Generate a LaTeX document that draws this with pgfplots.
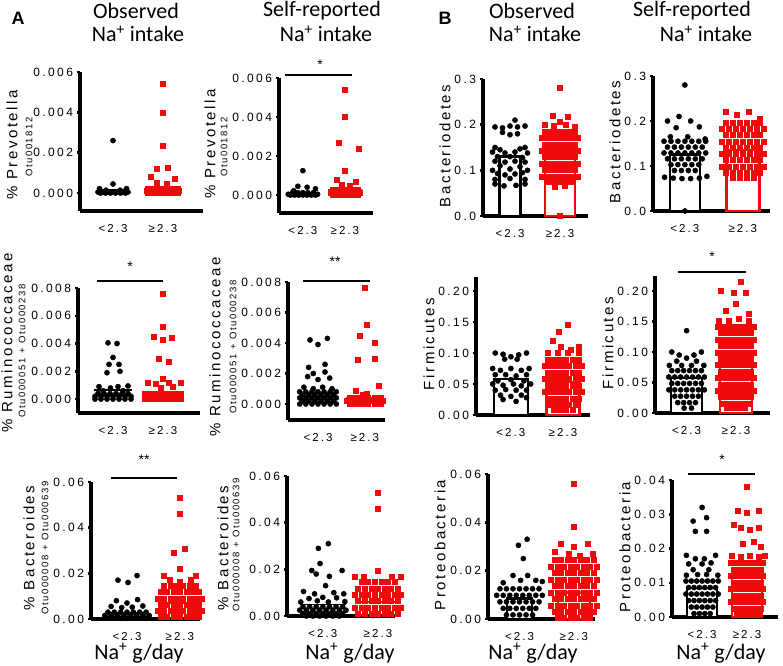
\documentclass[border=0pt]{standalone}
\usepackage{pgfplots}
\pgfplotsset{compat=1.18}
\usepackage{fontspec}
\setmainfont{Liberation Sans}
\newfontfamily\tickfont[LetterSpace=20]{Liberation Sans}
\newfontfamily\xtickfont[LetterSpace=18]{Liberation Sans}
\newfontfamily\labfont[LetterSpace=17]{Liberation Sans}
\newfontfamily\titfont{Carlito}
\definecolor{myred}{RGB}{240,10,10}
\pgfplotsset{
 dot/.style={scale only axis, clip=false, axis x line=bottom, axis y line=left,
   axis line style={line width=3.5pt,-}, xtick={0,1}, xticklabels={{<2.3},{≥2.3}},
   x tick style={draw=none}, y tick style={line width=2.5pt,black}, major tick length=3.5pt,
   tick align=outside, scaled y ticks=false,
   yticklabel style={font=\tickfont\fontsize{12}{13}\selectfont},
   xticklabel style={font=\xtickfont\fontsize{11.5}{12}\selectfont, yshift=-6pt}, anchor=south west},
 blk/.style={only marks, mark=*, mark size=2.6pt, black},
 rd/.style={only marks, mark=square*, mark size=2.5pt, color=myred, mark options={draw=myred, fill=myred}},
 mblk/.style={black, line width=1.2pt},
 mrd/.style={myred, line width=1.2pt},
 bbar/.style={ybar, bar shift=0pt, fill=white, line width=2.5pt, draw=black},
 rbar/.style={ybar, bar shift=0pt, fill=white, line width=2.5pt, draw=myred},
}
\newcommand{\mainlab}{\labfont\fontsize{15}{17}\selectfont}
\newcommand{\sublab}{\labfont\fontsize{9.5}{11}\selectfont}
\newcommand{\tit}{\titfont\fontsize{22}{24}\selectfont}
\begin{document}
\begin{tikzpicture}[x=1pt,y=1pt]
\useasboundingbox (0,0) rectangle (783,665);
% ---------------- A1 ----------------
\begin{axis}[dot, at={(80pt,454pt)}, width=123pt, height=139pt, xmin=-0.66, xmax=1.8, ymin=-0.00089, ymax=0.006,
 ytick={0,0.002,0.004,0.006}, yticklabels={0.000,0.002,0.004,0.006}]
\addplot[blk] coordinates {(0,0.0026)(0,0.00045)(-0.27,0.00022)(0.27,0.00022)(-0.14,0.00014)(0.14,0.00014)
(-0.3,0.00005)(-0.2,0.00005)(-0.1,0.00005)(0,0.00005)(0.1,0.00005)(0.2,0.00005)(0.3,0.00005)
(-0.25,0)(-0.15,0)(-0.05,0)(0.05,0)(0.15,0)(0.25,0)};
\addplot[mblk] coordinates {(-0.32,0.00016)(0.32,0.00016)};
\addplot[rd] coordinates {(1,0.0054)(1,0.0040)(1,0.00235)(0.88,0.00122)(1.1,0.00125)(0.75,0.0008)(1.23,0.00072)(0.88,0.00052)(1.08,0.00045)
(0.7,0.0002)(0.8,0.0002)(0.9,0.0002)(1,0.0002)(1.1,0.0002)(1.2,0.0002)(1.3,0.0002)
(0.68,0.0001)(0.76,0.0001)(0.84,0.0001)(0.92,0.0001)(1,0.0001)(1.08,0.0001)(1.16,0.0001)(1.24,0.0001)(1.32,0.0001)
(0.7,0)(0.8,0)(0.9,0)(1,0)(1.1,0)(1.2,0)(1.3,0)};
\addplot[mrd] coordinates {(0.66,0.00028)(1.34,0.00028)};
\end{axis}
% ---------------- A2 ----------------
\begin{axis}[dot, at={(279pt,452pt)}, width=94pt, height=135pt, xmin=-0.57, xmax=1.67, ymin=-0.00092, ymax=0.006,
 ytick={0,0.002,0.004,0.006}, yticklabels={0.000,0.002,0.004,0.006}]
\addplot[blk] coordinates {(0,0.00125)(-0.12,0.00045)(0.1,0.0004)(0.3,0.00032)(-0.22,0.00022)
(-0.25,0.00012)(-0.12,0.00012)(0,0.00012)(0.12,0.00012)(0.25,0.00012)
(-0.35,0.00004)(-0.25,0.00004)(-0.15,0.00004)(-0.05,0.00004)(0.05,0.00004)(0.15,0.00004)(0.25,0.00004)(0.35,0.00004)
(-0.3,0)(-0.2,0)(-0.1,0)(0,0)(0.1,0)(0.2,0)(0.3,0)};
\addplot[mblk] coordinates {(-0.36,0.0001)(0.36,0.0001)};
\addplot[rd] coordinates {(1,0.0054)(1,0.0040)(0.85,0.0027)(1.33,0.0024)(1,0.00125)(0.8,0.0008)(1.25,0.0007)(0.92,0.00055)(1.12,0.0005)
(0.7,0.00025)(0.8,0.00025)(0.9,0.00025)(1,0.00025)(1.1,0.00025)(1.2,0.00025)(1.3,0.00025)
(0.65,0.00012)(0.75,0.00012)(0.85,0.00012)(0.95,0.00012)(1.05,0.00012)(1.15,0.00012)(1.25,0.00012)(1.35,0.00012)
(0.7,0)(0.8,0)(0.9,0)(1,0)(1.1,0)(1.2,0)(1.3,0)};
\addplot[mrd] coordinates {(0.6,0.00028)(1.4,0.00028)};
\end{axis}
% ---------------- B1 ----------------
\begin{axis}[dot, at={(483pt,449pt)}, width=105pt, height=137pt, xmin=-0.54, xmax=1.56, ymin=0, ymax=0.3,
 ytick={0,0.1,0.2,0.3}, yticklabels={0.0,0.1,0.2,0.3}]
\addplot[bbar, bar width=21pt] coordinates {(0,0.13)};
\addplot[rbar, bar width=30pt] coordinates {(1,0.13)};
\addplot[blk] coordinates {(0.1,0.21)
(-0.3,0.195)(-0.15,0.193)(0,0.197)(0.15,0.195)(0.3,0.197)
(-0.15,0.183)(0.0,0.178)(0.15,0.18)
(-0.3,0.15)(0.3,0.15)(-0.2,0.145)(0.2,0.147)
(-0.35,0.14)(-0.1,0.138)(0.1,0.14)(0.35,0.138)
(-0.25,0.13)(0,0.13)(0.25,0.128)
(-0.3,0.12)(-0.1,0.118)(0.1,0.12)(0.3,0.118)
(-0.2,0.11)(0.2,0.108)(-0.35,0.1)(0.35,0.1)(0,0.103)
(-0.25,0.093)(0.25,0.095)(-0.1,0.09)(0.1,0.092)
(-0.3,0.08)(0.3,0.08)(0,0.082)
(-0.3,0.07)(-0.12,0.066)(0.12,0.067)(0.3,0.07)};
\addplot[rd] coordinates {(1,0.28)(0.85,0.22)(1.15,0.218)(1,0.207)(0.7,0.2)(0.88,0.197)(1.12,0.2)(1.3,0.196)
(0.7,0.185)(0.82,0.185)(0.94,0.185)(1.06,0.185)(1.18,0.185)(1.3,0.185)
(0.64,0.171)(0.76,0.171)(0.88,0.171)(1,0.171)(1.12,0.171)(1.24,0.171)(1.36,0.171)
(0.7,0.157)(0.82,0.157)(0.94,0.157)(1.06,0.157)(1.18,0.157)(1.3,0.157)
(0.64,0.143)(0.76,0.143)(0.88,0.143)(1,0.143)(1.12,0.143)(1.24,0.143)(1.36,0.143)
(0.7,0.129)(0.82,0.129)(0.94,0.129)(1.06,0.129)(1.18,0.129)(1.3,0.129)
(0.64,0.115)(0.76,0.115)(0.88,0.115)(1,0.115)(1.12,0.115)(1.24,0.115)(1.36,0.115)
(0.7,0.101)(0.82,0.101)(0.94,0.101)(1.06,0.101)(1.18,0.101)(1.3,0.101)
(0.64,0.087)(0.76,0.087)(0.88,0.087)(1,0.087)(1.12,0.087)(1.24,0.087)(1.36,0.087)
(0.76,0.075)(0.88,0.075)(1,0.075)(1.12,0.075)(1.24,0.075)
(0.9,0.065)(1.1,0.066)(1,0)};
\end{axis}
% ---------------- B2 ----------------
\begin{axis}[dot, at={(653pt,454pt)}, width=117pt, height=135pt, xmin=-0.55, xmax=1.47, ymin=0, ymax=0.3,
 ytick={0,0.1,0.2,0.3}, yticklabels={0.0,0.1,0.2,0.3}]
\addplot[bbar, bar width=30pt] coordinates {(0,0.125)};
\addplot[rbar, bar width=33pt] coordinates {(1,0.135)};
\addplot[blk] coordinates {(0,0.28)(-0.1,0.21)(0.1,0.2)(-0.3,0.2)(0.25,0.187)(-0.15,0.185)(0.05,0.165)(-0.25,0.165)(0.35,0.16)
(-0.36,0.155)(-0.24,0.155)(-0.12,0.155)(0,0.155)(0.12,0.155)(0.24,0.155)(0.36,0.155)
(-0.3,0.142)(-0.18,0.142)(-0.06,0.142)(0.06,0.142)(0.18,0.142)(0.3,0.142)
(-0.36,0.129)(-0.24,0.129)(-0.12,0.129)(0,0.129)(0.12,0.129)(0.24,0.129)(0.36,0.129)
(-0.3,0.116)(-0.18,0.116)(-0.06,0.116)(0.06,0.116)(0.18,0.116)(0.3,0.116)
(-0.24,0.103)(-0.12,0.103)(0,0.103)(0.12,0.103)(0.24,0.103)
(-0.18,0.09)(-0.06,0.09)(0.06,0.09)(0.18,0.09)
(-0.35,0.075)(-0.2,0.073)(-0.05,0.072)(0.1,0.072)(0.25,0.073)(0.38,0.077)(0,0)};
\addplot[rd] coordinates {(0.7,0.22)(0.9,0.215)(1.1,0.22)(1.3,0.205)
(0.7,0.197)(0.82,0.197)(0.94,0.197)(1.06,0.197)(1.18,0.197)(1.3,0.197)
(0.64,0.183)(0.76,0.183)(0.88,0.183)(1,0.183)(1.12,0.183)(1.24,0.183)(1.36,0.183)
(0.7,0.169)(0.82,0.169)(0.94,0.169)(1.06,0.169)(1.18,0.169)(1.3,0.169)
(0.64,0.155)(0.76,0.155)(0.88,0.155)(1,0.155)(1.12,0.155)(1.24,0.155)(1.36,0.155)
(0.7,0.141)(0.82,0.141)(0.94,0.141)(1.06,0.141)(1.18,0.141)(1.3,0.141)
(0.64,0.127)(0.76,0.127)(0.88,0.127)(1,0.127)(1.12,0.127)(1.24,0.127)(1.36,0.127)
(0.7,0.113)(0.82,0.113)(0.94,0.113)(1.06,0.113)(1.18,0.113)(1.3,0.113)
(0.64,0.099)(0.76,0.099)(0.88,0.099)(1,0.099)(1.12,0.099)(1.24,0.099)(1.36,0.099)
(0.7,0.085)(0.82,0.085)(0.94,0.085)(1.06,0.085)(1.18,0.085)(1.3,0.085)
(0.82,0.074)(0.94,0.074)(1.06,0.074)(1.18,0.074)};
\end{axis}
% ---------------- A3 ----------------
\begin{axis}[dot, at={(78pt,252pt)}, width=122pt, height=125pt, xmin=-0.7, xmax=1.74, ymin=-0.001, ymax=0.008,
 ytick={0,0.002,0.004,0.006,0.008}, yticklabels={0.000,0.002,0.004,0.006,0.008}]
\addplot[blk] coordinates {(-0.1,0.00405)(0.08,0.004)(0,0.003)(-0.08,0.0025)(0.12,0.0025)(-0.12,0.0019)(0.14,0.002)
(-0.28,0.0009)(-0.05,0.0008)(0.1,0.0009)(0.3,0.00095)(-0.2,0.0006)(0.2,0.0006)
(-0.3,0.0004)(-0.18,0.0004)(-0.06,0.0004)(0.06,0.0004)(0.18,0.0004)(0.3,0.0004)
(-0.36,0.0002)(-0.24,0.0002)(-0.12,0.0002)(0,0.0002)(0.12,0.0002)(0.24,0.0002)(0.36,0.0002)
(-0.36,0)(-0.24,0)(-0.12,0)(0,0)(0.12,0)(0.24,0)(0.36,0)};
\addplot[mblk] coordinates {(-0.38,0.00065)(0.38,0.00065)};
\addplot[rd] coordinates {(1,0.0076)(1,0.0052)(0.82,0.0045)(1,0.0043)(1.18,0.0044)(0.92,0.0029)(1.12,0.0027)(1,0.0015)
(0.7,0.0012)(0.85,0.0011)(1.12,0.0012)(1.35,0.0012)(0.95,0.0008)(1.2,0.0009)
(0.64,0.0004)(0.76,0.0004)(0.88,0.0004)(1,0.0004)(1.12,0.0004)(1.24,0.0004)(1.36,0.0004)
(0.7,0.0002)(0.82,0.0002)(0.94,0.0002)(1.06,0.0002)(1.18,0.0002)(1.3,0.0002)
(0.64,0)(0.76,0)(0.88,0)(1,0)(1.12,0)(1.24,0)(1.36,0)};
\addplot[mrd] coordinates {(0.62,0.0005)(1.38,0.0005)};
\end{axis}
% ---------------- A4 ----------------
\begin{axis}[dot, at={(288pt,245pt)}, width=97pt, height=138pt, xmin=-0.64, xmax=1.43, ymin=-0.00105, ymax=0.008,
 ytick={0,0.002,0.004,0.006,0.008}, yticklabels={0.000,0.002,0.004,0.006,0.008}]
\addplot[blk] coordinates {(-0.17,0.0042)(0,0.0039)(0.2,0.0043)(0.15,0.0026)(-0.2,0.0024)(-0.1,0.002)(0.15,0.0021)(-0.22,0.0018)(0.25,0.0017)(0,0.0016)
(-0.3,0.0011)(-0.1,0.001)(0.1,0.0011)(0.3,0.001)
(-0.39,0.0008)(-0.26,0.0008)(-0.13,0.0008)(0,0.0008)(0.13,0.0008)(0.26,0.0008)(0.39,0.0008)
(-0.33,0.0006)(-0.2,0.0006)(-0.07,0.0006)(0.07,0.0006)(0.2,0.0006)(0.33,0.0006)
(-0.39,0.0004)(-0.26,0.0004)(-0.13,0.0004)(0,0.0004)(0.13,0.0004)(0.26,0.0004)(0.39,0.0004)
(-0.33,0.0002)(-0.2,0.0002)(-0.07,0.0002)(0.07,0.0002)(0.2,0.0002)(0.33,0.0002)
(-0.39,0)(-0.26,0)(-0.13,0)(0,0)(0.13,0)(0.26,0)(0.39,0)};
\addplot[mblk] coordinates {(-0.42,0.0005)(0.42,0.0005)};
\addplot[rd] coordinates {(1,0.0076)(1.05,0.0052)(0.9,0.0045)(1.22,0.004)(0.85,0.0029)(1.22,0.003)(1.3,0.0012)(0.8,0.0009)(1.05,0.0007)(0.95,0.0006)
(0.67,0.0004)(0.8,0.0004)(0.93,0.0004)(1.07,0.0004)(1.2,0.0004)(1.33,0.0004)
(0.61,0.0002)(0.74,0.0002)(0.87,0.0002)(1,0.0002)(1.13,0.0002)(1.26,0.0002)(1.39,0.0002)
(0.67,0)(0.8,0)(0.93,0)(1.07,0)(1.2,0)(1.33,0)};
\addplot[mrd] coordinates {(0.6,0.0004)(1.4,0.0004)};
\end{axis}
% ---------------- B3 ----------------
\begin{axis}[dot, at={(476pt,250pt)}, width=114pt, height=138pt, xmin=-0.67, xmax=1.52, ymin=0, ymax=0.2226,
 ytick={0,0.05,0.1,0.15,0.2}, yticklabels={0.00,0.05,0.10,0.15,0.20}]
\addplot[bbar, bar width=34pt] coordinates {(0,0.058)};
\addplot[rbar, bar width=33pt] coordinates {(1,0.053)};
\addplot[blk] coordinates {(-0.3,0.1)(-0.15,0.098)(0,0.094)(0.15,0.097)(0.3,0.1)(-0.12,0.09)(0.12,0.09)
(-0.35,0.075)(-0.2,0.072)(0,0.075)(0.2,0.072)(0.35,0.075)
(-0.3,0.065)(-0.1,0.065)(0.1,0.063)(0.3,0.065)
(-0.25,0.055)(0,0.057)(0.25,0.055)
(-0.35,0.05)(-0.15,0.048)(0.05,0.05)(0.2,0.047)(0.38,0.05)
(-0.3,0.04)(-0.1,0.041)(0.1,0.04)(0.3,0.04)
(-0.2,0.032)(0,0.03)(0.2,0.032)
(-0.15,0.025)(0.1,0.022)(0.3,0.028)};
\addplot[rd] coordinates {(1.1,0.146)(0.92,0.135)(0.8,0.12)(0.95,0.11)(1.3,0.11)(1.15,0.105)(0.7,0.1)(0.9,0.1)(1.1,0.1)(1.3,0.1)
(0.7,0.0895)(0.82,0.0895)(0.94,0.0895)(1.06,0.0895)(1.18,0.0895)(1.3,0.0895)
(0.64,0.079)(0.76,0.079)(0.88,0.079)(1,0.079)(1.12,0.079)(1.24,0.079)(1.36,0.079)
(0.7,0.0685)(0.82,0.0685)(0.94,0.0685)(1.06,0.0685)(1.18,0.0685)(1.3,0.0685)
(0.64,0.058)(0.76,0.058)(0.88,0.058)(1,0.058)(1.12,0.058)(1.24,0.058)(1.36,0.058)
(0.7,0.0475)(0.82,0.0475)(0.94,0.0475)(1.06,0.0475)(1.18,0.0475)(1.3,0.0475)
(0.64,0.037)(0.76,0.037)(0.88,0.037)(1,0.037)(1.12,0.037)(1.24,0.037)(1.36,0.037)
(0.7,0.0265)(0.82,0.0265)(0.94,0.0265)(1.06,0.0265)(1.18,0.0265)(1.3,0.0265)
(0.76,0.016)(0.88,0.016)(1,0.016)(1.12,0.016)(1.24,0.016)
(0.82,0.008)(0.94,0.008)(1.06,0.008)(1.18,0.008)};
\end{axis}
% ---------------- B4 ----------------
\begin{axis}[dot, at={(655pt,252pt)}, width=115pt, height=137pt, xmin=-0.64, xmax=1.69, ymin=0, ymax=0.2246,
 ytick={0,0.05,0.1,0.15,0.2}, yticklabels={0.00,0.05,0.10,0.15,0.20}]
\addplot[bbar, bar width=31pt] coordinates {(0,0.057)};
\addplot[rbar, bar width=32pt] coordinates {(1,0.08)};
\addplot[blk] coordinates {(0,0.135)
(-0.3,0.1)(-0.15,0.095)(0,0.09)(0.15,0.095)(0.3,0.1)(-0.2,0.085)(0.2,0.085)
(-0.35,0.078)(-0.1,0.078)(0.1,0.078)(0.35,0.078)
(-0.3,0.0695)(-0.18,0.0695)(-0.06,0.0695)(0.06,0.0695)(0.18,0.0695)(0.3,0.0695)
(-0.36,0.059)(-0.24,0.059)(-0.12,0.059)(0,0.059)(0.12,0.059)(0.24,0.059)(0.36,0.059)
(-0.3,0.0485)(-0.18,0.0485)(-0.06,0.0485)(0.06,0.0485)(0.18,0.0485)(0.3,0.0485)
(-0.36,0.038)(-0.24,0.038)(-0.12,0.038)(0,0.038)(0.12,0.038)(0.24,0.038)(0.36,0.038)
(-0.24,0.0275)(-0.12,0.0275)(0,0.0275)(0.12,0.0275)(0.24,0.0275)
(-0.18,0.017)(-0.06,0.017)(0.06,0.017)(0.18,0.017)
(-0.05,0.008)(0.1,0.008)};
\addplot[rd] coordinates {(1.1,0.215)(0.7,0.2)(0.95,0.197)(1.2,0.198)(1,0.18)(0.8,0.168)(1.25,0.163)
(0.65,0.152)(0.85,0.152)(1.05,0.154)(1.25,0.152)
(0.64,0.1415)(0.76,0.1415)(0.88,0.1415)(1,0.1415)(1.12,0.1415)(1.24,0.1415)(1.36,0.1415)
(0.7,0.131)(0.82,0.131)(0.94,0.131)(1.06,0.131)(1.18,0.131)(1.3,0.131)
(0.64,0.1205)(0.76,0.1205)(0.88,0.1205)(1,0.1205)(1.12,0.1205)(1.24,0.1205)(1.36,0.1205)
(0.7,0.11)(0.82,0.11)(0.94,0.11)(1.06,0.11)(1.18,0.11)(1.3,0.11)
(0.64,0.0995)(0.76,0.0995)(0.88,0.0995)(1,0.0995)(1.12,0.0995)(1.24,0.0995)(1.36,0.0995)
(0.7,0.089)(0.82,0.089)(0.94,0.089)(1.06,0.089)(1.18,0.089)(1.3,0.089)
(0.64,0.0785)(0.76,0.0785)(0.88,0.0785)(1,0.0785)(1.12,0.0785)(1.24,0.0785)(1.36,0.0785)
(0.7,0.068)(0.82,0.068)(0.94,0.068)(1.06,0.068)(1.18,0.068)(1.3,0.068)
(0.64,0.0575)(0.76,0.0575)(0.88,0.0575)(1,0.0575)(1.12,0.0575)(1.24,0.0575)(1.36,0.0575)
(0.7,0.047)(0.82,0.047)(0.94,0.047)(1.06,0.047)(1.18,0.047)(1.3,0.047)
(0.64,0.0365)(0.76,0.0365)(0.88,0.0365)(1,0.0365)(1.12,0.0365)(1.24,0.0365)(1.36,0.0365)
(0.7,0.026)(0.82,0.026)(0.94,0.026)(1.06,0.026)(1.18,0.026)(1.3,0.026)
(0.76,0.016)(0.88,0.016)(1,0.016)(1.12,0.016)(1.24,0.016)
(0.82,0.008)(0.94,0.008)(1.06,0.008)(1.18,0.008)};
\end{axis}
% ---------------- A5 ----------------
\begin{axis}[dot, at={(91pt,46pt)}, width=109pt, height=137pt, xmin=-0.68, xmax=1.38, ymin=0, ymax=0.06,
 ytick={0,0.02,0.04,0.06}, yticklabels={0.00,0.02,0.04,0.06}]
\addplot[blk] coordinates {(-0.17,0.017)(0.02,0.016)(0.19,0.019)
(-0.2,0.008)(0.2,0.0085)(0,0.007)(-0.3,0.0055)(0.3,0.0057)(-0.1,0.005)(0.1,0.0052)
(-0.36,0.003)(-0.24,0.003)(-0.12,0.003)(0,0.003)(0.12,0.003)(0.24,0.003)(0.36,0.003)
(-0.42,0.0015)(-0.3,0.0015)(-0.18,0.0015)(-0.06,0.0015)(0.06,0.0015)(0.18,0.0015)(0.3,0.0015)(0.42,0.0015)
(-0.36,0.0003)(-0.24,0.0003)(-0.12,0.0003)(0,0.0003)(0.12,0.0003)(0.24,0.0003)(0.36,0.0003)};
\addplot[mblk] coordinates {(-0.42,0.003)(0.42,0.003)};
\addplot[rd] coordinates {(1,0.053)(1,0.046)(1.1,0.031)(0.88,0.029)(1,0.022)
(0.7,0.019)(1.3,0.019)(0.8,0.017)(1,0.0165)(1.2,0.017)
(0.7,0.0145)(0.82,0.0145)(0.94,0.0145)(1.06,0.0145)(1.18,0.0145)(1.3,0.0145)
(0.64,0.0118)(0.76,0.0118)(0.88,0.0118)(1,0.0118)(1.12,0.0118)(1.24,0.0118)(1.36,0.0118)
(0.58,0.0091)(0.7,0.0091)(0.82,0.0091)(0.94,0.0091)(1.06,0.0091)(1.18,0.0091)(1.3,0.0091)(1.42,0.0091)
(0.64,0.0064)(0.76,0.0064)(0.88,0.0064)(1,0.0064)(1.12,0.0064)(1.24,0.0064)(1.36,0.0064)
(0.58,0.0037)(0.7,0.0037)(0.82,0.0037)(0.94,0.0037)(1.06,0.0037)(1.18,0.0037)(1.3,0.0037)(1.42,0.0037)
(0.64,0.001)(0.76,0.001)(0.88,0.001)(1,0.001)(1.12,0.001)(1.24,0.001)(1.36,0.001)};
\addplot[mrd] coordinates {(0.6,0.007)(1.4,0.007)};
\end{axis}
% ---------------- A6 ----------------
\begin{axis}[dot, at={(287pt,49pt)}, width=108pt, height=140pt, xmin=-0.65, xmax=1.31, ymin=0, ymax=0.06,
 ytick={0,0.02,0.04,0.06}, yticklabels={0.00,0.02,0.04,0.06}]
\addplot[blk] coordinates {(0.1,0.031)(-0.08,0.029)(-0.05,0.0225)(-0.2,0.0195)(0.35,0.0195)(-0.12,0.018)(0.12,0.017)(0.05,0.013)
(-0.35,0.0105)(-0.15,0.0095)(0.2,0.01)(0.38,0.0095)
(-0.25,0.0075)(0,0.008)(0.25,0.0078)(-0.4,0.006)(0.4,0.0062)(-0.1,0.0065)(0.1,0.006)
(-0.36,0.004)(-0.24,0.004)(-0.12,0.004)(0,0.004)(0.12,0.004)(0.24,0.004)(0.36,0.004)
(-0.42,0.0025)(-0.3,0.0025)(-0.18,0.0025)(-0.06,0.0025)(0.06,0.0025)(0.18,0.0025)(0.3,0.0025)(0.42,0.0025)
(-0.36,0.001)(-0.24,0.001)(-0.12,0.001)(0,0.001)(0.12,0.001)(0.24,0.001)(0.36,0.001)
(-0.3,0)(-0.18,0)(-0.06,0)(0.06,0)(0.18,0)(0.3,0)};
\addplot[mblk] coordinates {(-0.42,0.0048)(0.42,0.0048)};
\addplot[rd] coordinates {(1,0.053)(1,0.046)(1,0.0195)
(0.58,0.017)(0.75,0.017)(1.25,0.017)(1.42,0.017)
(0.7,0.0145)(0.82,0.0145)(0.94,0.0145)(1.06,0.0145)(1.18,0.0145)(1.3,0.0145)
(0.64,0.0118)(0.76,0.0118)(0.88,0.0118)(1,0.0118)(1.12,0.0118)(1.24,0.0118)(1.36,0.0118)
(0.58,0.0091)(0.7,0.0091)(0.82,0.0091)(0.94,0.0091)(1.06,0.0091)(1.18,0.0091)(1.3,0.0091)(1.42,0.0091)
(0.64,0.0064)(0.76,0.0064)(0.88,0.0064)(1,0.0064)(1.12,0.0064)(1.24,0.0064)(1.36,0.0064)
(0.58,0.0037)(0.7,0.0037)(0.82,0.0037)(0.94,0.0037)(1.06,0.0037)(1.18,0.0037)(1.3,0.0037)(1.42,0.0037)
(0.64,0.001)(0.76,0.001)(0.88,0.001)(1,0.001)(1.12,0.001)(1.24,0.001)(1.36,0.001)};
\addplot[mrd] coordinates {(0.6,0.006)(1.4,0.006)};
\end{axis}
% ---------------- B5 ----------------
\begin{axis}[dot, at={(488pt,46pt)}, width=107pt, height=145pt, xmin=-0.58, xmax=1.39, ymin=0, ymax=0.06,
 ytick={0,0.02,0.04,0.06}, yticklabels={0.00,0.02,0.04,0.06}]
\addplot[bbar, bar width=25pt] coordinates {(0,0.0085)};
\addplot[rbar, bar width=32pt] coordinates {(1,0.011)};
\addplot[blk] coordinates {(0.14,0.033)(-0.02,0.0305)(0.07,0.025)(-0.12,0.018)(0.15,0.018)
(-0.3,0.015)(0.02,0.016)(0.3,0.016)(0.42,0.0155)
(-0.36,0.0125)(-0.24,0.0125)(-0.12,0.0125)(0,0.0125)(0.12,0.0125)(0.24,0.0125)(0.36,0.0125)
(-0.42,0.0098)(-0.3,0.0098)(-0.18,0.0098)(-0.06,0.0098)(0.06,0.0098)(0.18,0.0098)(0.3,0.0098)(0.42,0.0098)
(-0.36,0.0071)(-0.24,0.0071)(-0.12,0.0071)(0,0.0071)(0.12,0.0071)(0.24,0.0071)(0.36,0.0071)
(-0.3,0.0044)(-0.18,0.0044)(-0.06,0.0044)(0.06,0.0044)(0.18,0.0044)(0.3,0.0044)
(-0.24,0.0017)(-0.12,0.0017)(0,0.0017)(0.12,0.0017)(0.24,0.0017)};
\addplot[rd] coordinates {(1,0.056)(1,0.038)(0.75,0.031)(1,0.03)(1.25,0.031)(0.65,0.028)(0.9,0.027)(1.1,0.026)(1.35,0.027)
(0.64,0.0245)(0.76,0.0245)(0.88,0.0245)(1,0.0245)(1.12,0.0245)(1.24,0.0245)(1.36,0.0245)
(0.58,0.0218)(0.7,0.0218)(0.82,0.0218)(0.94,0.0218)(1.06,0.0218)(1.18,0.0218)(1.3,0.0218)(1.42,0.0218)
(0.64,0.0191)(0.76,0.0191)(0.88,0.0191)(1,0.0191)(1.12,0.0191)(1.24,0.0191)(1.36,0.0191)
(0.58,0.0164)(0.7,0.0164)(0.82,0.0164)(0.94,0.0164)(1.06,0.0164)(1.18,0.0164)(1.3,0.0164)(1.42,0.0164)
(0.64,0.0137)(0.76,0.0137)(0.88,0.0137)(1,0.0137)(1.12,0.0137)(1.24,0.0137)(1.36,0.0137)
(0.58,0.011)(0.7,0.011)(0.82,0.011)(0.94,0.011)(1.06,0.011)(1.18,0.011)(1.3,0.011)(1.42,0.011)
(0.64,0.0083)(0.76,0.0083)(0.88,0.0083)(1,0.0083)(1.12,0.0083)(1.24,0.0083)(1.36,0.0083)
(0.58,0.0056)(0.7,0.0056)(0.82,0.0056)(0.94,0.0056)(1.06,0.0056)(1.18,0.0056)(1.3,0.0056)(1.42,0.0056)
(0.64,0.0029)(0.76,0.0029)(0.88,0.0029)(1,0.0029)(1.12,0.0029)(1.24,0.0029)(1.36,0.0029)
(0.7,0.0004)(0.82,0.0004)(0.94,0.0004)(1.06,0.0004)(1.18,0.0004)(1.3,0.0004)};
\end{axis}
% ---------------- B6 ----------------
\begin{axis}[dot, at={(672pt,48pt)}, width=106pt, height=137pt, xmin=-0.67, xmax=1.69, ymin=0, ymax=0.04,
 ytick={0,0.01,0.02,0.03,0.04}, yticklabels={0.00,0.01,0.02,0.03,0.04}]
\addplot[bbar, bar width=30pt] coordinates {(0,0.0085)};
\addplot[rbar, bar width=30pt] coordinates {(1,0.0115)};
\addplot[blk] coordinates {(0,0.032)(-0.2,0.028)(0.1,0.029)(-0.15,0.025)(0.1,0.025)
(-0.35,0.018)(-0.15,0.017)(0.05,0.017)(0.3,0.018)(-0.3,0.0155)(0,0.0155)(0.2,0.0158)
(-0.2,0.0138)(0.15,0.0138)(-0.35,0.0122)(-0.1,0.0124)(0.1,0.0124)(0.35,0.0122)
(-0.36,0.0105)(-0.24,0.0105)(-0.12,0.0105)(0,0.0105)(0.12,0.0105)(0.24,0.0105)(0.36,0.0105)
(-0.3,0.0086)(-0.18,0.0086)(-0.06,0.0086)(0.06,0.0086)(0.18,0.0086)(0.3,0.0086)
(-0.36,0.0067)(-0.24,0.0067)(-0.12,0.0067)(0,0.0067)(0.12,0.0067)(0.24,0.0067)(0.36,0.0067)
(-0.3,0.0048)(-0.18,0.0048)(-0.06,0.0048)(0.06,0.0048)(0.18,0.0048)(0.3,0.0048)
(-0.24,0.0029)(-0.12,0.0029)(0,0.0029)(0.12,0.0029)(0.24,0.0029)
(-0.18,0.001)(-0.06,0.001)(0.06,0.001)(0.18,0.001)};
\addplot[rd] coordinates {(1,0.038)(0.8,0.031)(1,0.0305)(1.25,0.031)(0.85,0.026)(1.05,0.0255)(1.25,0.026)(0.7,0.027)(1.15,0.022)(0.9,0.0215)(1.3,0.0205)
(0.65,0.018)(0.85,0.0175)(1.05,0.018)(1.25,0.0175)(1.4,0.018)
(0.64,0.0158)(0.76,0.0158)(0.88,0.0158)(1,0.0158)(1.12,0.0158)(1.24,0.0158)(1.36,0.0158)
(0.7,0.0139)(0.82,0.0139)(0.94,0.0139)(1.06,0.0139)(1.18,0.0139)(1.3,0.0139)
(0.64,0.012)(0.76,0.012)(0.88,0.012)(1,0.012)(1.12,0.012)(1.24,0.012)(1.36,0.012)
(0.7,0.0101)(0.82,0.0101)(0.94,0.0101)(1.06,0.0101)(1.18,0.0101)(1.3,0.0101)
(0.64,0.0082)(0.76,0.0082)(0.88,0.0082)(1,0.0082)(1.12,0.0082)(1.24,0.0082)(1.36,0.0082)
(0.7,0.0063)(0.82,0.0063)(0.94,0.0063)(1.06,0.0063)(1.18,0.0063)(1.3,0.0063)
(0.64,0.0044)(0.76,0.0044)(0.88,0.0044)(1,0.0044)(1.12,0.0044)(1.24,0.0044)(1.36,0.0044)
(0.7,0.0025)(0.82,0.0025)(0.94,0.0025)(1.06,0.0025)(1.18,0.0025)(1.3,0.0025)
(0.76,0.0008)(0.88,0.0008)(1,0.0008)(1.12,0.0008)(1.24,0.0008)};
\end{axis}
% ---------------- annotations ----------------
\node[font=\bfseries\fontsize{18}{20}\selectfont] at (18,647) {A};
\node[font=\bfseries\fontsize{18}{20}\selectfont] at (445,647) {B};
\node[font=\tit, inner sep=1pt] at (136,654) {Observed};
\node[font=\tit, inner sep=1pt] at (138,631) {Na\textsuperscript{+} intake};
\node[font=\tit, inner sep=1pt] at (322,654) {Self-reported};
\node[font=\tit, inner sep=1pt] at (326,631) {Na\textsuperscript{+} intake};
\node[font=\tit, inner sep=1pt] at (532,654) {Observed};
\node[font=\tit, inner sep=1pt] at (535,631) {Na\textsuperscript{+} intake};
\node[font=\tit, inner sep=1pt] at (692,654) {Self-reported};
\node[font=\tit, inner sep=1pt] at (706,631) {Na\textsuperscript{+} intake};
\node[font=\tit, inner sep=1pt] at (139,12) {Na\textsuperscript{+} g/day};
\node[font=\tit, inner sep=1pt] at (350,12) {Na\textsuperscript{+} g/day};
\node[font=\tit, inner sep=1pt] at (533,12) {Na\textsuperscript{+} g/day};
\node[font=\tit, inner sep=1pt] at (721,12) {Na\textsuperscript{+} g/day};
% y labels
\node[rotate=90, font=\mainlab] at (12,520) {\% Prevotella};
\node[rotate=90, font=\sublab] at (29,518) {Otu001812};
\node[rotate=90, font=\mainlab] at (210,521) {\% Prevotella};
\node[rotate=90, font=\sublab] at (224,518) {Otu001812};
\node[rotate=90, font=\mainlab] at (445,519) {Bacteriodetes};
\node[rotate=90, font=\mainlab] at (615,523) {Bacteriodetes};
\node[rotate=90, font=\mainlab] at (7,322) {\% Ruminococcaceae};
\node[rotate=90, font=\sublab] at (22,314) {Otu000051 + Otu000238};
\node[rotate=90, font=\mainlab] at (215,318) {\% Ruminococcaceae};
\node[rotate=90, font=\sublab] at (233,318) {Otu000051 + Otu000238};
\node[rotate=90, font=\mainlab] at (429,321) {Firmicutes};
\node[rotate=90, font=\mainlab] at (608,322) {Firmicutes};
\node[rotate=90, font=\mainlab] at (29,117) {\% Bacteroides};
\node[rotate=90, font=\sublab] at (45,117) {Otu000008 + Otu000639};
\node[rotate=90, font=\mainlab] at (223,117) {\% Bacteroides};
\node[rotate=90, font=\sublab] at (236,120) {Otu000008 + Otu000639};
\node[rotate=90, font=\mainlab] at (440,120) {Proteobacteria};
\node[rotate=90, font=\mainlab] at (625,118) {Proteobacteria};
% significance
\draw[line width=1.8pt] (285,590) -- (352,590);
\node[font=\fontsize{14}{14}\selectfont] at (320,600) {*};
\draw[line width=1.8pt] (97,384) -- (163,384);
\node[font=\fontsize{14}{14}\selectfont] at (130,398) {*};
\draw[line width=1.8pt] (303,384) -- (370,384);
\node[font=\fontsize{14}{14}\selectfont] at (335,403) {**};
\draw[line width=1.8pt] (111,187) -- (177,187);
\node[font=\fontsize{14}{14}\selectfont] at (144,205) {**};
\draw[line width=1.8pt] (678,393) -- (746,393);
\node[font=\fontsize{14}{14}\selectfont] at (712,408) {*};
\draw[line width=1.8pt] (688,191) -- (755,191);
\node[font=\fontsize{14}{14}\selectfont] at (722,205) {*};
\end{tikzpicture}
\end{document}
